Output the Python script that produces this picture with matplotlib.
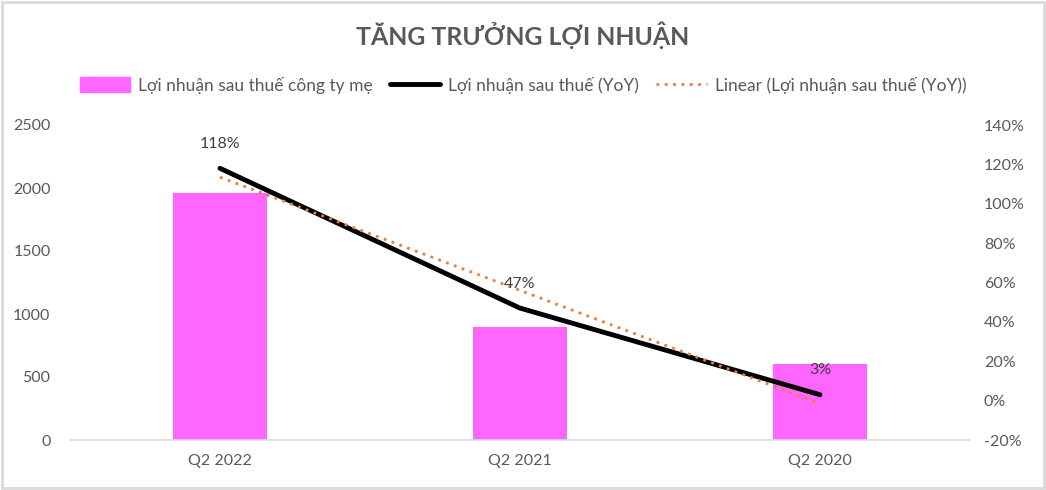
import numpy as np
import matplotlib
matplotlib.use("Agg")
import matplotlib.pyplot as plt
from matplotlib.patches import Patch, Rectangle
from matplotlib.lines import Line2D

plt.rcParams['font.family'] = ['Lato', 'DejaVu Sans']

categories = ["Q2 2022", "Q2 2021", "Q2 2020"]
profit = [1960, 895, 605]
yoy = [1.18, 0.47, 0.03]
yoy_labels = ["118%", "47%", "3%"]

left_ticks = [0, 500, 1000, 1500, 2000, 2500]
right_ticks = [-0.2, 0, 0.2, 0.4, 0.6, 0.8, 1.0, 1.2, 1.4]

txt = "#595959"
pink = "#FF66FF"
orange = "#ED7D31"

fig = plt.figure(figsize=(10.46, 4.9), dpi=100)
fig.patches.append(Rectangle((0.002, 0.004), 0.996, 0.992, transform=fig.transFigure,
                             fill=False, edgecolor="#D9D9D9", linewidth=2))

ax = fig.add_axes([70/1046, 1-440/490, 900/1046, 315/490])
x = np.arange(len(categories))
ax.bar(x, profit, width=0.316, color=pink, zorder=1)
ax.set_xlim(-0.5, len(categories)-0.5)
ax.set_ylim(0, 2500)
ax.set_yticks(left_ticks)
ax.set_yticklabels([str(t) for t in left_ticks])
ax.set_xticks(x)
ax.set_xticklabels(categories)
for s in ["top", "right", "left"]:
    ax.spines[s].set_visible(False)
ax.spines["bottom"].set_color("#D9D9D9")
ax.spines["bottom"].set_linewidth(1.2)
ax.tick_params(axis="both", length=0, labelsize=11.5, colors=txt)
ax.tick_params(axis="y", pad=14)
ax.tick_params(axis="x", pad=10)

ax2 = ax.twinx()
ax2.set_ylim(-0.2, 1.4)
ax2.set_yticks(right_ticks)
ax2.set_yticklabels([f"{int(round(t*100))}%" for t in right_ticks])
for s in ["top", "right", "left", "bottom"]:
    ax2.spines[s].set_visible(False)
ax2.tick_params(axis="y", length=0, labelsize=11.5, colors=txt, pad=10)

ax2.plot(x, yoy, color="black", linewidth=3.5, solid_capstyle="round", zorder=3)
coef = np.polyfit(x, yoy, 1)
trend = np.polyval(coef, x)
ax2.plot(x, trend, color=orange, linewidth=2, linestyle=(0, (1, 2)), zorder=4)
for xi, yi, lab in zip(x, yoy, yoy_labels):
    ax2.annotate(lab, (xi, yi), xytext=(0, 17.5), textcoords="offset points",
                 ha="center", va="center", fontsize=11.5, color="#404040", zorder=5)

fig.text(0.5, 1-35/490, "TĂNG TRƯỞNG LỢI NHUẬN", ha="center", va="center",
         fontsize=17.9, fontweight="bold", color=txt)

handles = [Patch(facecolor=pink, edgecolor=pink),
           Line2D([], [], color="black", linewidth=3.5, solid_capstyle="round"),
           Line2D([], [], color=orange, linewidth=2, linestyle=(0, (1, 2)))]
labels = ["Lợi nhuận sau thuế công ty mẹ", "Lợi nhuận sau thuế (YoY)",
          "Linear (Lợi nhuận sau thuế (YoY))"]
fig.legend(handles, labels, loc="center", bbox_to_anchor=(0.5, 1-85/490), ncol=3,
           frameon=False, fontsize=12.5, labelcolor=txt, handlelength=2.9,
           handleheight=0.9, columnspacing=1.0, handletextpad=0.45)

fig.savefig("out.png", dpi=100)
